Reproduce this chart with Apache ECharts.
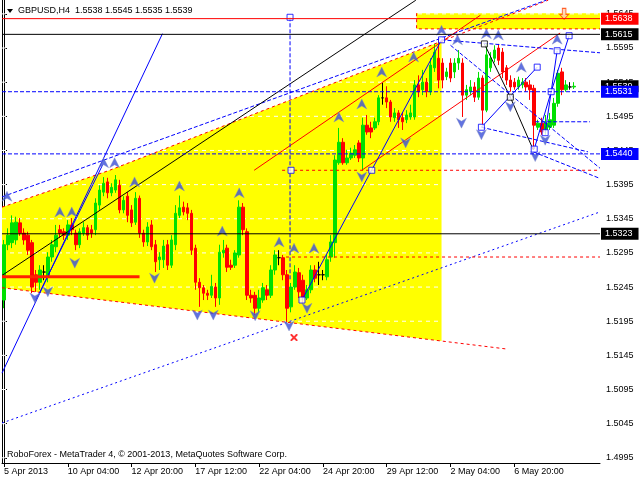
<!DOCTYPE html>
<html><head><meta charset="utf-8">
<script src="https://cdn.jsdelivr.net/npm/echarts@6/dist/echarts.min.js"></script>
<style>html,body{margin:0;padding:0;background:#fff}#c{width:640px;height:480px}</style>
</head><body><div id="c"></div>
<script>
// ---- data ----
const symbolName = 'GBPUSD,H4';
const ohlc = [ // [open, close, low, high]
[1.5226,1.5307,1.5214,1.5314],[1.5307,1.5321,1.5299,1.5331],[1.5310,1.5339,1.5302,1.5350],[1.5314,1.5340,1.5307,1.5348],
[1.5339,1.5324,1.5320,1.5346],[1.5324,1.5314,1.5307,1.5331],[1.5321,1.5299,1.5292,1.5326],[1.5310,1.5245,1.5236,1.5314],
[1.5263,1.5252,1.5238,1.5270],[1.5252,1.5270,1.5241,1.5277],[1.5267,1.5267,1.5255,1.5277],[1.5260,1.5289,1.5252,1.5296],
[1.5289,1.5307,1.5282,1.5314],[1.5304,1.5321,1.5296,1.5336],[1.5329,1.5324,1.5317,1.5336],[1.5326,1.5321,1.5314,1.5331],
[1.5321,1.5336,1.5314,1.5343],[1.5336,1.5329,1.5321,1.5346],[1.5324,1.5307,1.5299,1.5329],[1.5307,1.5326,1.5302,1.5331],
[1.5324,1.5332,1.5320,1.5340],[1.5332,1.5321,1.5314,1.5336],[1.5329,1.5324,1.5317,1.5336],[1.5329,1.5368,1.5321,1.5375],
[1.5365,1.5387,1.5358,1.5394],[1.5384,1.5397,1.5378,1.5406],[1.5399,1.5383,1.5375,1.5405],[1.5383,1.5391,1.5378,1.5397],
[1.5387,1.5402,1.5383,1.5409],[1.5394,1.5358,1.5353,1.5402],[1.5358,1.5372,1.5353,1.5378],[1.5378,1.5350,1.5340,1.5384],
[1.5358,1.5339,1.5333,1.5365],[1.5340,1.5375,1.5336,1.5384],[1.5375,1.5324,1.5317,1.5379],[1.5324,1.5311,1.5304,1.5329],
[1.5311,1.5333,1.5305,1.5340],[1.5336,1.5304,1.5299,1.5343],[1.5307,1.5282,1.5267,1.5314],[1.5285,1.5289,1.5270,1.5296],
[1.5285,1.5305,1.5273,1.5314],[1.5307,1.5277,1.5270,1.5314],[1.5277,1.5314,1.5273,1.5321],[1.5307,1.5353,1.5299,1.5365],
[1.5350,1.5361,1.5346,1.5379],[1.5362,1.5355,1.5350,1.5370],[1.5361,1.5353,1.5343,1.5368],[1.5353,1.5299,1.5292,1.5358],
[1.5302,1.5252,1.5241,1.5307],[1.5252,1.5244,1.5216,1.5258],[1.5244,1.5236,1.5226,1.5248],[1.5236,1.5233,1.5226,1.5241],
[1.5233,1.5246,1.5229,1.5263],[1.5245,1.5229,1.5216,1.5251],[1.5229,1.5296,1.5219,1.5307],[1.5295,1.5299,1.5288,1.5314],
[1.5302,1.5274,1.5267,1.5307],[1.5277,1.5274,1.5270,1.5285],[1.5277,1.5295,1.5273,1.5299],[1.5292,1.5362,1.5288,1.5372],
[1.5362,1.5329,1.5321,1.5368],[1.5326,1.5233,1.5226,1.5331],[1.5233,1.5229,1.5222,1.5241],[1.5233,1.5214,1.5204,1.5238],
[1.5214,1.5229,1.5208,1.5241],[1.5226,1.5244,1.5222,1.5251],[1.5241,1.5233,1.5226,1.5248],[1.5233,1.5270,1.5229,1.5277],
[1.5270,1.5292,1.5263,1.5299],[1.5288,1.5288,1.5277,1.5299],[1.5288,1.5263,1.5255,1.5292],[1.5263,1.5214,1.5194,1.5270],
[1.5216,1.5245,1.5208,1.5251],[1.5245,1.5267,1.5241,1.5277],[1.5266,1.5238,1.5229,1.5273],[1.5255,1.5230,1.5222,1.5263],
[1.5229,1.5241,1.5226,1.5248],[1.5241,1.5270,1.5236,1.5277],[1.5270,1.5258,1.5252,1.5277],[1.5263,1.5263,1.5248,1.5282],
[1.5263,1.5263,1.5255,1.5270],[1.5260,1.5285,1.5255,1.5292],[1.5289,1.5311,1.5282,1.5321],[1.5310,1.5431,1.5288,1.5438],
[1.5427,1.5457,1.5424,1.5478],[1.5457,1.5427,1.5424,1.5463],[1.5427,1.5434,1.5424,1.5446],[1.5434,1.5441,1.5431,1.5449],
[1.5438,1.5446,1.5434,1.5453],[1.5456,1.5434,1.5428,1.5460],[1.5434,1.5482,1.5416,1.5493],[1.5482,1.5472,1.5468,1.5497],
[1.5478,1.5472,1.5463,1.5487],[1.5478,1.5487,1.5475,1.5493],[1.5487,1.5522,1.5482,1.5526],[1.5522,1.5522,1.5512,1.5544],
[1.5522,1.5516,1.5507,1.5539],[1.5516,1.5494,1.5487,1.5519],[1.5493,1.5500,1.5487,1.5507],[1.5500,1.5490,1.5478,1.5504],
[1.5493,1.5487,1.5475,1.5501],[1.5490,1.5497,1.5485,1.5504],[1.5494,1.5500,1.5490,1.5512],[1.5494,1.5541,1.5490,1.5548],
[1.5541,1.5531,1.5523,1.5555],[1.5534,1.5545,1.5526,1.5563],[1.5545,1.5531,1.5523,1.5551],[1.5531,1.5570,1.5526,1.5580],
[1.5566,1.5589,1.5560,1.5601],[1.5580,1.5548,1.5536,1.5607],[1.5573,1.5548,1.5536,1.5580],[1.5553,1.5560,1.5548,1.5566],
[1.5573,1.5551,1.5545,1.5580],[1.5560,1.5573,1.5551,1.5580],[1.5573,1.5580,1.5563,1.5592],[1.5573,1.5526,1.5494,1.5580],
[1.5526,1.5534,1.5519,1.5541],[1.5531,1.5538,1.5526,1.5548],[1.5538,1.5523,1.5516,1.5545],[1.5523,1.5551,1.5519,1.5560],
[1.5551,1.5504,1.5482,1.5555],[1.5504,1.5585,1.5501,1.5601],[1.5566,1.5580,1.5560,1.5589],[1.5580,1.5592,1.5574,1.5599],
[1.5595,1.5577,1.5570,1.5601],[1.5589,1.5560,1.5551,1.5595],[1.5566,1.5548,1.5541,1.5570],[1.5548,1.5538,1.5531,1.5555],
[1.5545,1.5538,1.5534,1.5551],[1.5538,1.5548,1.5534,1.5553],[1.5541,1.5545,1.5536,1.5551],[1.5545,1.5538,1.5531,1.5551],
[1.5541,1.5534,1.5519,1.5548],[1.5536,1.5482,1.5446,1.5541],[1.5479,1.5485,1.5475,1.5490],[1.5485,1.5472,1.5468,1.5493],
[1.5475,1.5485,1.5468,1.5497],[1.5479,1.5490,1.5475,1.5500],[1.5482,1.5514,1.5478,1.5522],[1.5514,1.5558,1.5509,1.5563],
[1.5560,1.5534,1.5526,1.5566],[1.5534,1.5541,1.5531,1.5548],[1.5538,1.5538,1.5534,1.5545],[1.5538,1.5539,1.5535,1.5545]
];
const barSlots = 150;
const tickIdx = [0,16,32,48,64,80,96,112,128];
const tickText = ['5 Apr 2013','10 Apr 04:00','12 Apr 20:00','17 Apr 12:00','22 Apr 04:00','24 Apr 20:00','29 Apr 12:00','2 May 04:00','6 May 20:00'];
const priceTicks = [1.4995,1.5045,1.5095,1.5145,1.5195,1.5245,1.5295,1.5345,1.5395,1.5445,1.5495,1.5545,1.5595,1.5645];
const priceMin = 1.49874, priceMax = 1.56653;
const levelRed = [1.5638];
const levelBlack = [1.5615, 1.5323];
const levelBid = [1.5539];
const levelBlue = [1.5531, 1.5440];
// drawn objects (bar index, price)
const yellowZone = [[-0.5,1.5362],[26.5,1.5416],[109.75,1.5605],[109.75,1.5166],[-0.5,1.5244]];
const yellowBox = [[103.5,1.5646],[149.5,1.5646],[149.5,1.5623],[103.5,1.5623]];
const yellowTopEdge = [[-0.5,1.5362],[26.5,1.5416],[109.75,1.5605],[136.5,1.5665]];
const yellowBottomEdge = [[-0.5,1.5244],[109.75,1.5166],[126.5,1.5154]];
const boxEdge = [[103.5,1.5646],[103.5,1.5623],[149.5,1.5623]];
const blackDiag = [[-0.5,1.5262],[103.3,1.5665]];
const blueSteep = [[-0.5,1.5119],[39.75,1.5616]];
const blueSteep2 = [[8,1.5226],[24.75,1.5424]];
const blueDottedLong = [[-0.5,1.5046],[149.5,1.5355]];
const blueDashUpper = [[-0.5,1.5377],[136,1.5665]];
const redChanA = [[62.75,1.5416],[119.5,1.5643]];
const redChanB = [[89.75,1.5416],[139.5,1.5617]];
const redThick = [[-0.5,1.5260],[34,1.5260]];
const redDashH1 = [[69.75,1.5416],[149.5,1.5416]];
const redDashH2 = [[70.75,1.5289],[149.5,1.5289]];
const blueDashVert = [[71.75,1.5640],[71.75,1.5255]];
const blueWave = [[74.75,1.5226],[109.75,1.5607]];
const blackZig = [[120.5,1.5601],[127,1.5523],[132.75,1.5446]];
const blueLeg1 = [[119.75,1.5479],[133.75,1.5567]];
const blueLeg2 = [[133,1.5447],[137.25,1.5531],[141.75,1.5613]];
const blueLeg3 = [[135.75,1.5471],[138.75,1.5591]];
const blueFan1 = [[109.75,1.5607],[149.5,1.5588]];
const blueFan2 = [[112,1.5599],[149.5,1.5419]];
const blueFan3 = [[133.25,1.5487],[147,1.5487]];
const blueFan4 = [[119.75,1.5479],[146.5,1.5443]];
const blueFan5 = [[132.75,1.5443],[149.5,1.5404]];
const squaresBlue = [[119.75,1.5479],[133.75,1.5567],[137.25,1.5531],[138.75,1.5591],[141.75,1.5613],[135.75,1.5471],[133,1.5447],[109.75,1.5607],[92.25,1.5416],[74.75,1.5226],[71.75,1.5640],[72,1.5416]];
const squaresBlack = [[120.5,1.5601],[127,1.5523]];
const fractalUp = [[0.75,1.5378],[14,1.5355],[17,1.5355],[25,1.5427],[27.75,1.5427],[32.75,1.5399],[44,1.5393],[54.75,1.5327],[59,1.5383],[69,1.5311],[72.75,1.5302],[77.75,1.5302],[84,1.5494],[89.75,1.5513],[94.75,1.5560],[102.75,1.5582],[109.75,1.5621],[113.75,1.5607],[121,1.5616],[124,1.5614],[129.75,1.5567],[138.75,1.5608]];
const fractalDown = [[7.75,1.5229],[11,1.5238],[17.75,1.5280],[37.75,1.5258],[48.5,1.5204],[52.5,1.5204],[63,1.5203],[71.5,1.5188],[76,1.5214],[89.75,1.5406],[100.75,1.5456],[114.75,1.5485],[119.75,1.5468],[127,1.5509],[133.25,1.5436],[135.75,1.5460]];
const crossMark = [[72.75,1.5171]];
const alertMark = [[140.5,1.5645]];

// ---- chart ----
const FONT = '"Liberation Sans", Arial, sans-serif';
const chart = echarts.init(document.getElementById('c'), null, {renderer:'canvas'});
const cats = Array.from({length: barSlots}, (_, i) => String(i));
const last = ohlc[ohlc.length - 1];
const f4 = v => v.toFixed(4);
const xLo = -0.5, xHi = barSlots - 0.5;

function lineSeries(data, color, width, type, z) {
  return {type:'line', xAxisIndex:1, yAxisIndex:0, data, showSymbol:false, symbol:'none', silent:true,
    clip:true, z: z || 4, lineStyle:{color, width, type}, animation:false};
}
function levelSeries(v, color, type, bg, showLine) {
  const s = lineSeries([[xLo, v], [xHi, v]], color, 1, type, 7);
  s.lineStyle.opacity = showLine ? 1 : 0;
  s.clip = false;
  s.endLabel = {show:true, formatter: f4(v), color:'#fff', backgroundColor: bg, distance: 1,
    padding:[2,6,1,4], fontSize:9, fontFamily: FONT, align:'left', verticalAlign:'middle'};
  return s;
}
const upPath = 'path://M5,0 L10,10 L5,7 L0,10 Z';
const downPath = 'path://M0,0 L5,3 L10,0 L5,10 Z';
const xPath = 'path://M0,0 L2,0 L5,3 L8,0 L10,0 L10,2 L7,5 L10,8 L10,10 L8,10 L5,7 L2,10 L0,10 L0,8 L3,5 L0,2 Z';
const alertPath = 'path://M3,0 L7,0 L7,6 L10,6 L5,11 L0,6 L3,6 Z';

const gridSeries = priceTicks.map(v => lineSeries([[xLo, v], [xHi, v]], '#ffffff', 1, [4,4], 2));

const levelSeriesList = [].concat(
  levelRed.map(v => levelSeries(v, '#ff0000', 'solid', '#ff0000', true)),
  levelBlack.map(v => levelSeries(v, '#000000', 'solid', '#000000', true)),
  levelBid.map(v => levelSeries(v, '#000000', 'solid', '#000000', false)),
  levelBlue.map(v => levelSeries(v, '#0000ff', [4,2], '#0000ff', true))
);

const option = {
  animation: false,
  backgroundColor: '#fff',
  grid: {left: 2, right: 40, top: 0, bottom: 17, show: false},
  xAxis: [
    {type:'category', data: cats, boundaryGap: true,
      axisLine:{show:true, lineStyle:{color:'#000', width:1}},
      axisTick:{show:true, length:4, alignWithLabel:true, lineStyle:{color:'#000'},
        interval:(i)=>tickIdx.indexOf(i) >= 0},
      axisLabel:{show:true, interval:(i)=>tickIdx.indexOf(i) >= 0, align:'left', margin:4,
        fontSize:9, fontFamily:FONT, color:'#000',
        formatter:(v, i)=>{const k = tickIdx.indexOf(Number(v)); return k >= 0 ? tickText[k] : '';}},
      splitLine:{show:false}},
    {type:'value', min: xLo, max: xHi, show:false}
  ],
  yAxis: [
    {type:'value', min: priceMin, max: priceMax, position:'right',
      axisLine:{show:true, lineStyle:{color:'#000'}},
      axisTick:{show:true, length:3, customValues: priceTicks, lineStyle:{color:'#000'}},
      axisLabel:{show:true, customValues: priceTicks, margin:6, fontSize:9, fontFamily:FONT, color:'#000',
        formatter: v => f4(v)},
      splitLine:{show:false}},
    {type:'value', min: priceMin, max: priceMax, position:'left',
      axisLine:{show:true, onZero:false, lineStyle:{color:'#000'}}, axisTick:{show:false},
      axisLabel:{show:false}, splitLine:{show:false}}
  ],
  graphic: [
    {type:'polygon', shape:{points:[[7,9],[13,9],[10,13]]}, style:{fill:'#000'}, z:100},
    {type:'text', left:18, top:6, z:100,
      style:{text: symbolName + '  ' + f4(last[0]) + ' ' + f4(last[3]) + ' ' + f4(last[2]) + ' ' + f4(last[1]),
        font: '9px ' + FONT, fill:'#000'}},
    {type:'text', left:7, top:450, z:100,
      style:{text:'RoboForex - MetaTrader 4, © 2001-2013, MetaQuotes Software Corp.', font:'9px ' + FONT, fill:'#000'}}
  ],
  series: [].concat([
    {type:'custom', xAxisIndex:1, yAxisIndex:0, z:1, silent:true, clip:true,
      data:[[0,priceMin],[1,priceMin]],
      renderItem:(params, api) => {
        const poly = params.dataIndex === 0 ? yellowZone : yellowBox;
        return {type:'polygon', shape:{points: poly.map(p => api.coord(p))}, style:{fill:'#ffff00'}};
      }}],
    gridSeries,
    [
    {type:'candlestick', xAxisIndex:0, yAxisIndex:0, data: ohlc, barWidth:3, z:3, silent:true,
      itemStyle:{color:'#00e000', color0:'#ff0000', borderColor:'#00e000', borderColor0:'#ff0000',
        borderColorDoji:'#000000', borderWidth:1}},
    lineSeries(yellowTopEdge, '#ff0000', 1, [3,3]),
    lineSeries(yellowBottomEdge, '#ff0000', 1, [3,3]),
    lineSeries(boxEdge, '#ff0000', 1, [3,3]),
    lineSeries(blueDashUpper, '#0000ff', 1, [4,2]),
    lineSeries(blackDiag, '#000000', 1, 'solid'),
    lineSeries(blueSteep, '#0000ff', 1, 'solid'),
    lineSeries(blueSteep2, '#0000ff', 1, 'solid'),
    lineSeries(blueDottedLong, '#0000ff', 1, [2,3]),
    lineSeries(redChanA, '#ff0000', 1, 'solid'),
    lineSeries(redChanB, '#ff0000', 1, 'solid'),
    lineSeries(redThick, '#ff2000', 3, 'solid'),
    lineSeries(redDashH1, '#ff0000', 1, [3,3]),
    lineSeries(redDashH2, '#ff0000', 1, [3,3]),
    lineSeries(blueDashVert, '#0000ff', 1, [4,2]),
    lineSeries(blueWave, '#0000ff', 1, 'solid'),
    lineSeries(blackZig, '#000000', 1, 'solid'),
    lineSeries(blueLeg1, '#0000ff', 1, 'solid'),
    lineSeries(blueLeg2, '#0000ff', 1, 'solid'),
    lineSeries(blueLeg3, '#0000ff', 1, 'solid'),
    lineSeries(blueFan1, '#0000ff', 1, [4,2]),
    lineSeries(blueFan2, '#0000ff', 1, [4,2]),
    lineSeries(blueFan3, '#0000ff', 1, [4,2]),
    lineSeries(blueFan4, '#0000ff', 1, [4,2]),
    lineSeries(blueFan5, '#0000ff', 1, [4,2]),
    {type:'scatter', xAxisIndex:1, yAxisIndex:0, data: fractalUp, symbol: upPath, symbolSize:[10,10], z:5, silent:true,
      itemStyle:{color:'#3a4fd8', borderColor:'#8890c0', borderWidth:0.5}},
    {type:'scatter', xAxisIndex:1, yAxisIndex:0, data: fractalDown, symbol: downPath, symbolSize:[10,10], z:5, silent:true,
      itemStyle:{color:'#3a4fd8', borderColor:'#8890c0', borderWidth:0.5}},
    {type:'scatter', xAxisIndex:1, yAxisIndex:0, data: squaresBlue, symbol:'rect', symbolSize:6, z:6, silent:true,
      itemStyle:{color:'#ffffff', borderColor:'#0000ff', borderWidth:1}},
    {type:'scatter', xAxisIndex:1, yAxisIndex:0, data: squaresBlack, symbol:'rect', symbolSize:6, z:6, silent:true,
      itemStyle:{color:'#ffffff', borderColor:'#000000', borderWidth:1}},
    {type:'scatter', xAxisIndex:1, yAxisIndex:0, data: crossMark, symbol: xPath, symbolSize:7, z:6, silent:true,
      itemStyle:{color:'#ff0000'}},
    {type:'scatter', xAxisIndex:1, yAxisIndex:0, data: alertMark, symbol: alertPath, symbolSize:[9,11], z:6, silent:true,
      itemStyle:{color:'#ffd0b0', borderColor:'#ff4000', borderWidth:1}}
    ],
    levelSeriesList
  )
};
chart.setOption(option);
</script>
</body></html>
